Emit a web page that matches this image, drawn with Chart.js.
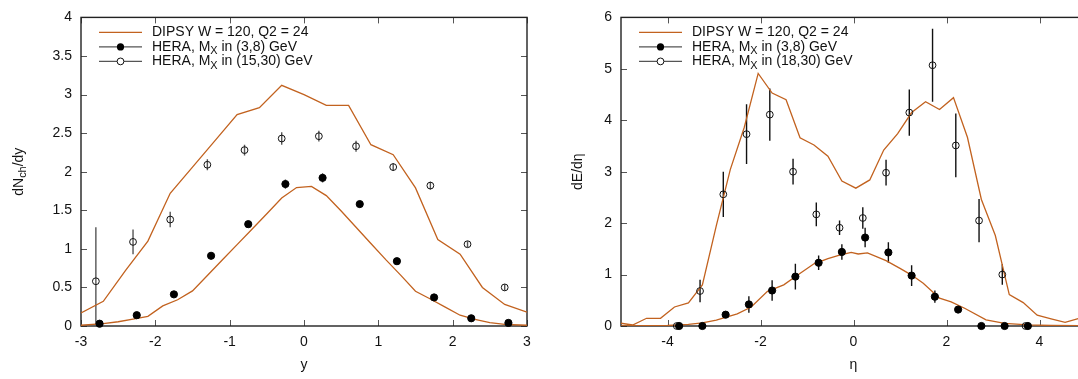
<!DOCTYPE html>
<html><head><meta charset="utf-8">
<script src="https://cdn.jsdelivr.net/npm/chart.js@4.4.1/dist/chart.umd.min.js"></script>
<style>
html,body{margin:0;padding:0;background:#fff;overflow:hidden;width:1078px;height:379px;}
#l{position:absolute;left:0;top:0;width:540px;height:379px;}
#r{position:absolute;left:540px;top:0;width:560px;height:379px;}
canvas{display:block;}
</style></head><body>
<div id="l"><canvas id="cl" width="540" height="379" style="width:540px;height:379px"></canvas></div>
<div id="r"><canvas id="cr" width="560" height="379" style="width:560px;height:379px"></canvas></div>
<script>
// ---------- data: left panel (rapidity y) ----------
const leftXTicks = [-3, -2, -1, 0, 1, 2, 3];
const leftYTicks = [0, 0.5, 1, 1.5, 2, 2.5, 3, 3.5, 4];
const leftDipsyHiX = [-3,-2.7,-2.4,-2.1,-1.8,-1.5,-1.2,-0.9,-0.6,-0.3,0,0.3,0.6,0.9,1.2,1.5,1.8,2.1,2.4,2.7,3];
const leftDipsyHiY = [0.17,0.32,0.72,1.10,1.72,2.06,2.40,2.74,2.83,3.12,3.00,2.86,2.86,2.35,2.22,1.79,1.12,0.93,0.50,0.28,0.18];
const leftDipsyLoX = [-3,-2.7,-2.5,-2.3,-2.1,-1.9,-1.7,-1.5,-1.3,-1.1,-0.9,-0.7,-0.5,-0.3,-0.1,0.1,0.3,0.5,0.7,0.9,1.1,1.3,1.5,1.7,1.9,2.1,2.3,2.5,2.7,3];
const leftDipsyLoY = [0.01,0.03,0.055,0.09,0.125,0.26,0.34,0.455,0.655,0.855,1.055,1.255,1.455,1.66,1.795,1.81,1.69,1.49,1.28,1.07,0.86,0.66,0.45,0.35,0.245,0.14,0.085,0.045,0.022,0.01];
const leftLowMxX = [-2.75,-2.25,-1.75,-1.25,-0.75,-0.25,0.25,0.75,1.25,1.75,2.25,2.75];
const leftLowMxY = [0.03,0.14,0.41,0.91,1.32,1.84,1.92,1.58,0.84,0.37,0.10,0.04];
const leftLowMxErr = [0.02,0.02,0.03,0.03,0.04,0.06,0.06,0.04,0.03,0.02,0.02,0.02];
const leftHighMxX = [-2.8,-2.3,-1.8,-1.3,-0.8,-0.3,0.2,0.7,1.2,1.7,2.2,2.7];
const leftHighMxY = [0.58,1.09,1.38,2.09,2.28,2.43,2.46,2.33,2.06,1.82,1.06,0.50];
const leftHighMxErr = [0.70,0.16,0.10,0.07,0.07,0.08,0.07,0.07,0.05,0.05,0.04,0.04];

// ---------- data: right panel (pseudorapidity eta) ----------
const rightXTicks = [-4, -2, 0, 2, 4];
const rightYTicks = [0, 1, 2, 3, 4, 5, 6];
const rightDipsyHiX = [-5.05,-4.75,-4.45,-4.15,-3.85,-3.55,-3.25,-2.95,-2.65,-2.35,-2.05,-1.75,-1.45,-1.15,-0.85,-0.55,-0.25,0.05,0.35,0.65,0.95,1.25,1.55,1.85,2.15,2.45,2.75,3.05,3.35,3.65,3.95,4.25,4.55,4.85,5.15];
const rightDipsyHiY = [0.06,0.02,0.15,0.15,0.37,0.45,0.80,1.95,3.04,3.86,4.91,4.53,4.40,3.66,3.52,3.30,2.82,2.68,2.84,3.42,3.74,4.15,4.36,4.21,4.44,3.67,2.46,1.76,0.61,0.455,0.21,0.14,0.07,0.15,0.20];
const rightDipsyLoX = [-5.05,-4.45,-4.0,-3.55,-3.25,-2.95,-2.5,-2.2,-1.85,-1.5,-1.2,-0.85,-0.55,-0.3,-0.05,0.1,0.3,0.7,1.0,1.25,1.5,1.85,2.1,2.4,2.85,3.25,3.75,4.25,4.85,5.15];
const rightDipsyLoY = [0.0,0.005,0.01,0.03,0.06,0.115,0.235,0.37,0.675,0.80,0.99,1.21,1.31,1.38,1.43,1.40,1.42,1.27,1.12,0.99,0.83,0.54,0.47,0.34,0.12,0.05,0.02,0.01,0.005,0.0];
const rightLowMxX = [-3.75,-3.25,-2.75,-2.25,-1.75,-1.25,-0.75,-0.25,0.25,0.75,1.25,1.75,2.25,2.75,3.25,3.75];
const rightLowMxY = [0.0,0.0,0.22,0.42,0.69,0.96,1.23,1.44,1.72,1.43,0.98,0.57,0.32,0.0,0.0,0.0];
const rightLowMxErr = [0.01,0.01,0.03,0.16,0.20,0.25,0.14,0.15,0.19,0.20,0.20,0.12,0.03,0.01,0.01,0.01];
const rightHighMxX = [-3.8,-3.3,-2.8,-2.3,-1.8,-1.3,-0.8,-0.3,0.2,0.7,1.2,1.7,2.2,2.7,3.2,3.7];
const rightHighMxY = [0.0,0.68,2.56,3.73,4.11,3.00,2.17,1.91,2.10,2.98,4.15,5.07,3.51,2.05,1.00,0.0];
const rightHighMxErr = [0.01,0.22,0.44,0.58,0.51,0.25,0.23,0.14,0.21,0.25,0.45,0.71,0.62,0.42,0.20,0.01];

const labelDipsy = 'DIPSY W = 120, Q2 = 24';
const labelLow = [['HERA, M'], ['X', 1], [' in (3,8) GeV']];
const labelHighLeft = [['HERA, M'], ['X', 1], [' in (15,30) GeV']];
const labelHighRight = [['HERA, M'], ['X', 1], [' in (18,30) GeV']];

// ---------- styling ----------
const FONT = '"Liberation Sans", Arial, Helvetica, sans-serif';
const FS = 14;
const ORANGE = '#c2621f';
const TXT = '#111';
Chart.defaults.font.family = FONT;
Chart.defaults.font.size = FS;
Chart.defaults.color = TXT;

const zip = (xs, ys) => xs.map((x, i) => ({x, y: ys[i]}));

function richWidth(ctx, parts, size) {
  let w = 0;
  for (const [t, sub] of parts) {
    ctx.font = (sub ? size * 0.78 : size) + 'px ' + FONT;
    w += ctx.measureText(t).width;
  }
  return w;
}
function drawRich(ctx, parts, x, y, size) {
  let cx = x;
  for (const [t, sub] of parts) {
    ctx.font = (sub ? size * 0.78 : size) + 'px ' + FONT;
    ctx.fillText(t, cx, y + (sub ? size * 0.3 : 0));
    cx += ctx.measureText(t).width;
  }
}

const framePlugin = {
  id: 'frame',
  beforeDatasetsDraw(chart, args, opts) {
    const {ctx, chartArea: a} = chart;
    const xs = chart.scales.x, ys = chart.scales.y;
    ctx.save();
    ctx.strokeStyle = '#555';
    ctx.lineWidth = 1;
    const L = 6;
    ctx.beginPath();
    xs.ticks.forEach(t => {
      const px = Math.round(xs.getPixelForValue(t.value)) + 0.5;
      ctx.moveTo(px, a.bottom); ctx.lineTo(px, a.bottom - L);
      ctx.moveTo(px, a.top); ctx.lineTo(px, a.top + L);
    });
    ys.ticks.forEach(t => {
      const py = Math.round(ys.getPixelForValue(t.value)) + 0.5;
      ctx.moveTo(a.left, py); ctx.lineTo(a.left + L, py);
      ctx.moveTo(a.right, py); ctx.lineTo(a.right - L, py);
    });
    ctx.stroke();
    ctx.strokeStyle = '#222';
    ctx.lineWidth = 1.4;
    ctx.strokeRect(a.left, a.top, a.right - a.left, a.bottom - a.top);
    // error bars
    ctx.beginPath();
    ctx.rect(a.left, a.top, a.right - a.left, a.bottom - a.top);
    ctx.clip();
    chart.data.datasets.forEach(ds => {
      if (!ds.errors) return;
      ctx.strokeStyle = opts.errColor || '#444';
      ctx.lineWidth = 1.4;
      ctx.beginPath();
      ds.data.forEach((p, i) => {
        const e = ds.errors[i];
        const px = xs.getPixelForValue(p.x);
        ctx.moveTo(px, ys.getPixelForValue(p.y - e));
        ctx.lineTo(px, ys.getPixelForValue(p.y + e));
      });
      ctx.stroke();
    });
    ctx.restore();
  },
  afterDraw(chart, args, opts) {
    const {ctx, chartArea: a} = chart;
    ctx.save();
    ctx.fillStyle = TXT;
    ctx.textBaseline = 'middle';
    // legend
    const x0 = a.left + 18, x1 = a.left + 61, tx = a.left + 71, mx = (x0 + x1) / 2;
    opts.legend.forEach((it, i) => {
      const y = a.top + 15 + i * 14.5;
      ctx.strokeStyle = it.kind === 'line' ? ORANGE : '#555';
      ctx.lineWidth = it.kind === 'line' ? 1.2 : 1.4;
      ctx.beginPath(); ctx.moveTo(x0, y); ctx.lineTo(x1, y); ctx.stroke();
      if (it.kind === 'filled') {
        ctx.fillStyle = '#000';
        ctx.beginPath(); ctx.arc(mx, y, 3.6, 0, Math.PI * 2); ctx.fill();
      } else if (it.kind === 'open') {
        ctx.fillStyle = '#fff';
        ctx.strokeStyle = '#111'; ctx.lineWidth = 1;
        ctx.beginPath(); ctx.arc(mx, y, 3.4, 0, Math.PI * 2); ctx.fill(); ctx.stroke();
      }
      ctx.fillStyle = TXT;
      const parts = typeof it.label === 'string' ? [[it.label]] : it.label;
      drawRich(ctx, parts, tx, y, FS);
    });
    // x title
    ctx.textAlign = 'center';
    ctx.font = FS + 'px ' + FONT;
    ctx.fillText(opts.xTitle, (a.left + a.right) / 2, opts.xTitleY);
    // y title rotated
    ctx.textAlign = 'left';
    const w = richWidth(ctx, opts.yTitle, FS);
    ctx.translate(opts.yTitleX, (a.top + a.bottom) / 2);
    ctx.rotate(-Math.PI / 2);
    drawRich(ctx, opts.yTitle, -w / 2, 0, FS);
    ctx.restore();
  }
};

function lineDs(xs, ys) {
  return {type: 'line', data: zip(xs, ys), borderColor: ORANGE, borderWidth: 1.3,
          pointRadius: 0, fill: false, tension: 0, order: 2};
}
function pointDs(xs, ys, errs, filled) {
  return {type: 'scatter', data: zip(xs, ys), errors: errs, showLine: false,
          pointRadius: filled ? 3.6 : 3.4, pointHoverRadius: 0,
          pointBackgroundColor: filled ? '#000' : 'rgba(0,0,0,0)',
          pointBorderColor: filled ? '#000' : '#111', pointBorderWidth: 1,
          clip: false, order: 1};
}

const fmt = v => String(v);

function makeChart(id, cfg) {
  return new Chart(document.getElementById(id), {
    type: 'scatter',
    data: {datasets: cfg.datasets},
    options: {
      responsive: false, animation: false, devicePixelRatio: 1,
      layout: {padding: {left: 0, top: 9, right: cfg.padRight, bottom: 0}},
      plugins: {legend: {display: false}, tooltip: {enabled: false},
                frame: cfg.frame},
      scales: {
        x: {type: 'linear', min: cfg.xMin, max: cfg.xMax,
            grid: {display: false, drawTicks: false}, border: {display: false},
            ticks: {padding: 8, color: TXT, font: {size: FS}, callback: fmt},
            afterBuildTicks: s => { s.ticks = cfg.xTicks.map(v => ({value: v})); },
            afterFit: s => { s.height = 53; }},
        y: {type: 'linear', min: cfg.yMin, max: cfg.yMax,
            grid: {display: false, drawTicks: false}, border: {display: false},
            ticks: {padding: 9, color: TXT, font: {size: FS}, callback: fmt},
            afterBuildTicks: s => { s.ticks = cfg.yTicks.map(v => ({value: v})); },
            afterFit: s => { s.width = 81; }}
      }
    },
    plugins: [framePlugin]
  });
}

makeChart('cl', {
  xMin: -3, xMax: 3, yMin: 0, yMax: 4, xTicks: leftXTicks, yTicks: leftYTicks, padRight: 13,
  datasets: [
    lineDs(leftDipsyHiX, leftDipsyHiY),
    lineDs(leftDipsyLoX, leftDipsyLoY),
    pointDs(leftLowMxX, leftLowMxY, leftLowMxErr, true),
    pointDs(leftHighMxX, leftHighMxY, leftHighMxErr, false)
  ],
  frame: {errColor: '#555', xTitle: 'y', xTitleY: 365, yTitleX: 19,
          yTitle: [['dN'], ['ch', 1], ['/dy']],
          legend: [{kind: 'line', label: labelDipsy}, {kind: 'filled', label: labelLow},
                   {kind: 'open', label: labelHighLeft}]}
});

makeChart('cr', {
  xMin: -5, xMax: 5, yMin: 0, yMax: 6, xTicks: rightXTicks, yTicks: rightYTicks, padRight: 14,
  datasets: [
    lineDs(rightDipsyHiX, rightDipsyHiY),
    lineDs(rightDipsyLoX, rightDipsyLoY),
    pointDs(rightLowMxX, rightLowMxY, rightLowMxErr, true),
    pointDs(rightHighMxX, rightHighMxY, rightHighMxErr, false)
  ],
  frame: {errColor: '#111', xTitle: 'η', xTitleY: 365, yTitleX: 38,
          yTitle: [['dE/dη']],
          legend: [{kind: 'line', label: labelDipsy}, {kind: 'filled', label: labelLow},
                   {kind: 'open', label: labelHighRight}]}
});
</script>
</body></html>
